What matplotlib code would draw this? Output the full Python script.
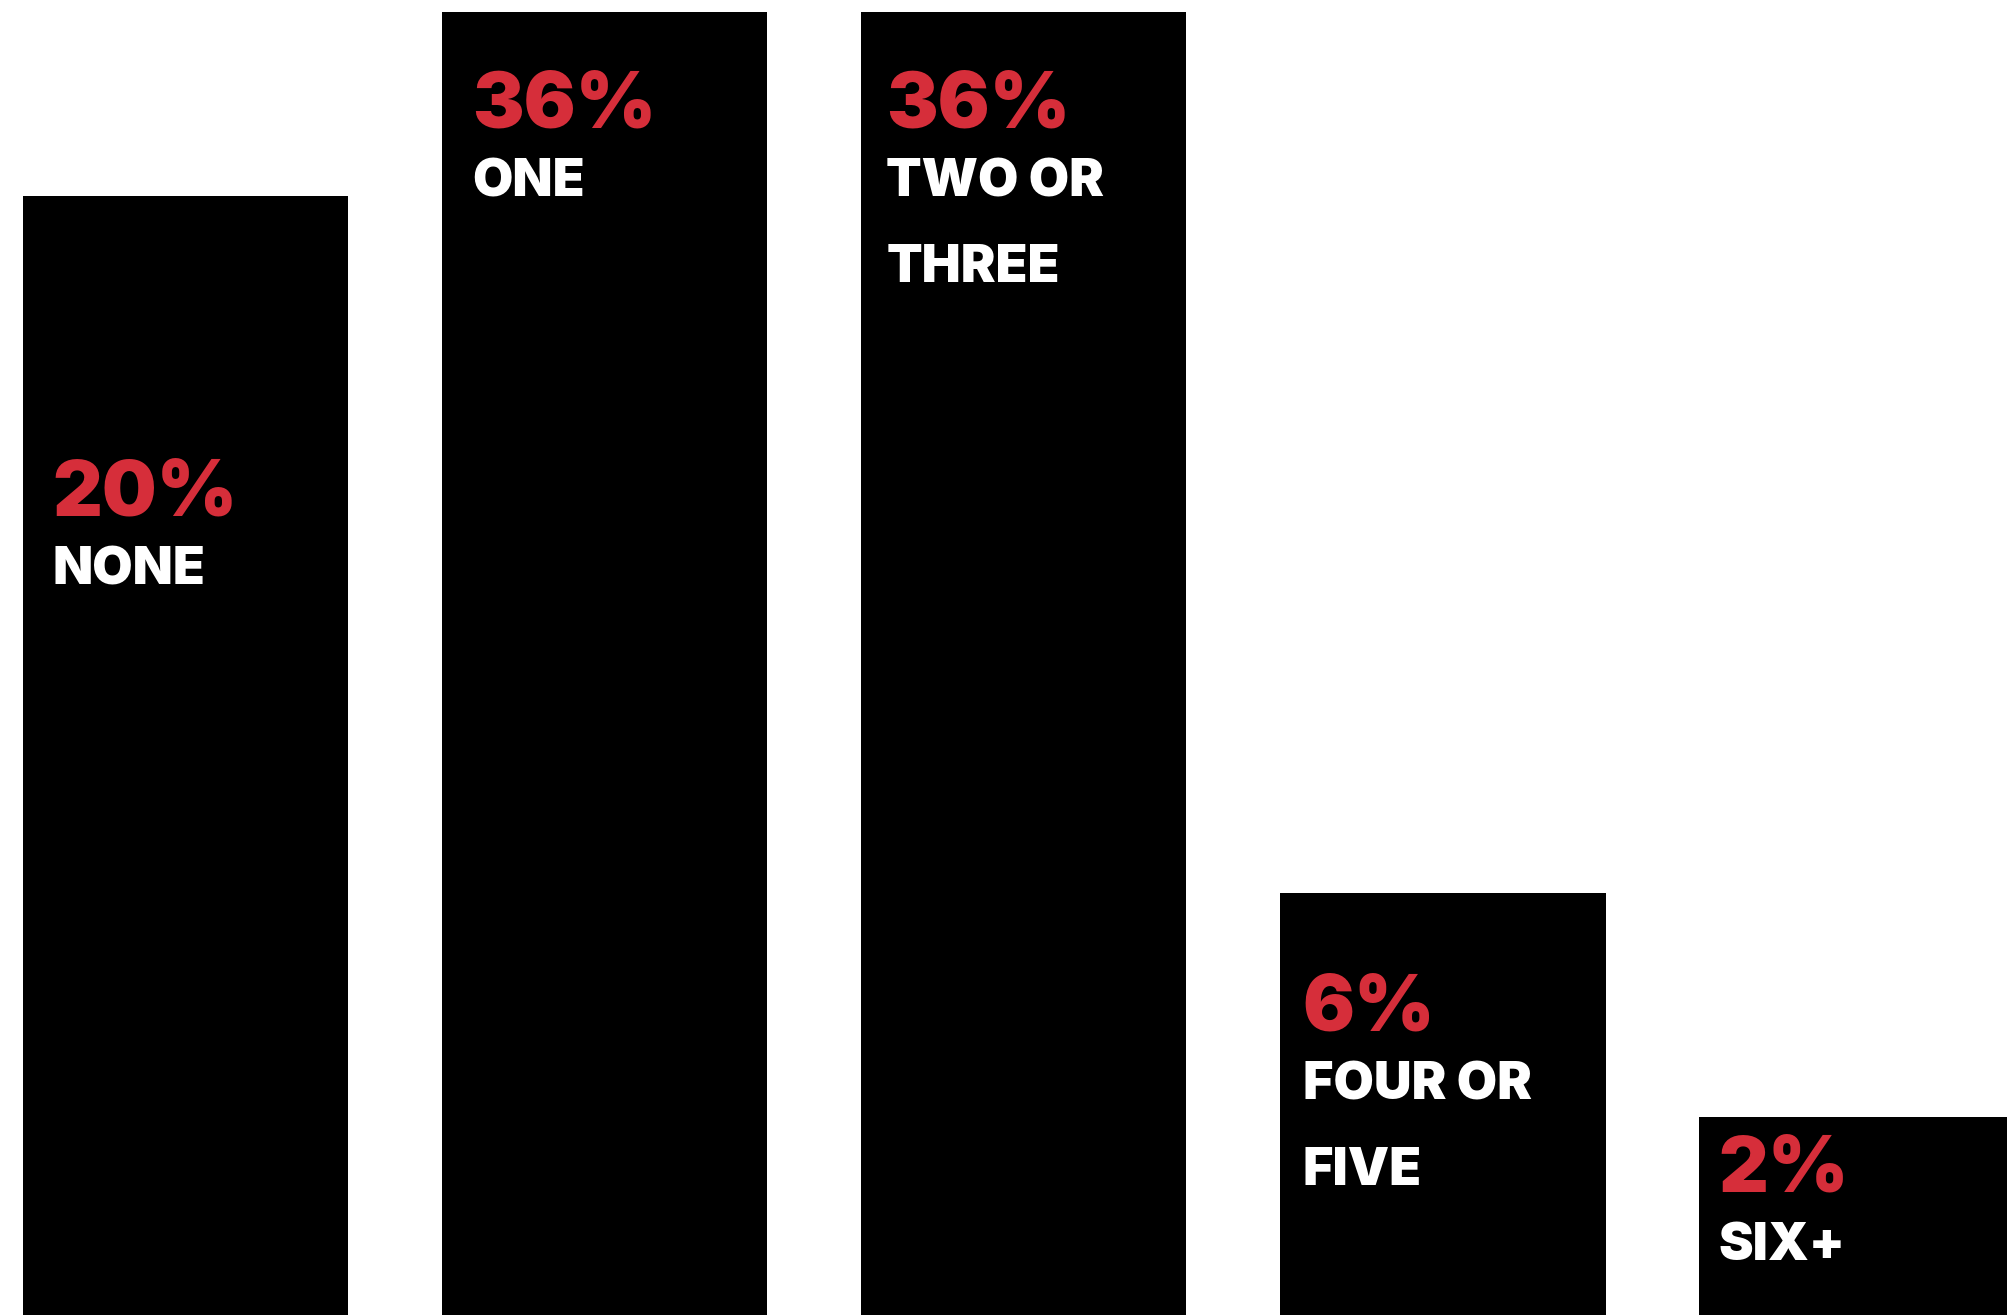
import matplotlib.pyplot as plt
from matplotlib.transforms import blended_transform_factory

# данные
categories = ['NONE', 'ONE', 'TWO OR\nTHREE', 'FOUR OR\nFIVE', 'SIX+']
shares = [20, 36, 36, 6, 2]
# высоты столбцов как нарисованы (не пропорциональны долям)
bar_heights = [30.9, 36.0, 36.0, 11.65, 5.47]

# раскладка подписей: доля высоты фигуры сверху до базовой линии процента
pct_y = [0.392, 0.0973, 0.0973, 0.784, 0.906]
text_pad = [0.072, 0.074, 0.062, 0.055, 0.048]
label_gap = 0.0525   # от процента до первой строки подписи
line_step = 0.0648   # между строками подписи

red = '#d62e3a'
font = ['Inter', 'DejaVu Sans']
bar_w = 0.778

fig = plt.figure(figsize=(20.08, 13.15), dpi=100)
ax = fig.add_axes([0, 0, 1, 1])

x = range(len(categories))
ax.bar(x, bar_heights, width=bar_w, color='black', align='center')

ax.set_xlim(-0.4427, 4.3496)
ax.set_ylim(0, 36.32)
ax.axis('off')

tr = blended_transform_factory(ax.transData, ax.transAxes)
for i, (cat, val) in enumerate(zip(categories, shares)):
    tx = i - bar_w / 2 + text_pad[i]
    y0 = 1 - pct_y[i]
    ax.text(tx, y0, f'{val}%', transform=tr, color=red,
            fontsize=55.5, fontweight='black', family=font, va='baseline')
    for k, line in enumerate(cat.split('\n')):
        ax.text(tx, y0 - label_gap - k * line_step, line, transform=tr,
                color='white', fontsize=37.5, fontweight='black',
                family=font, va='baseline')

fig.savefig('out.png', dpi=100)
